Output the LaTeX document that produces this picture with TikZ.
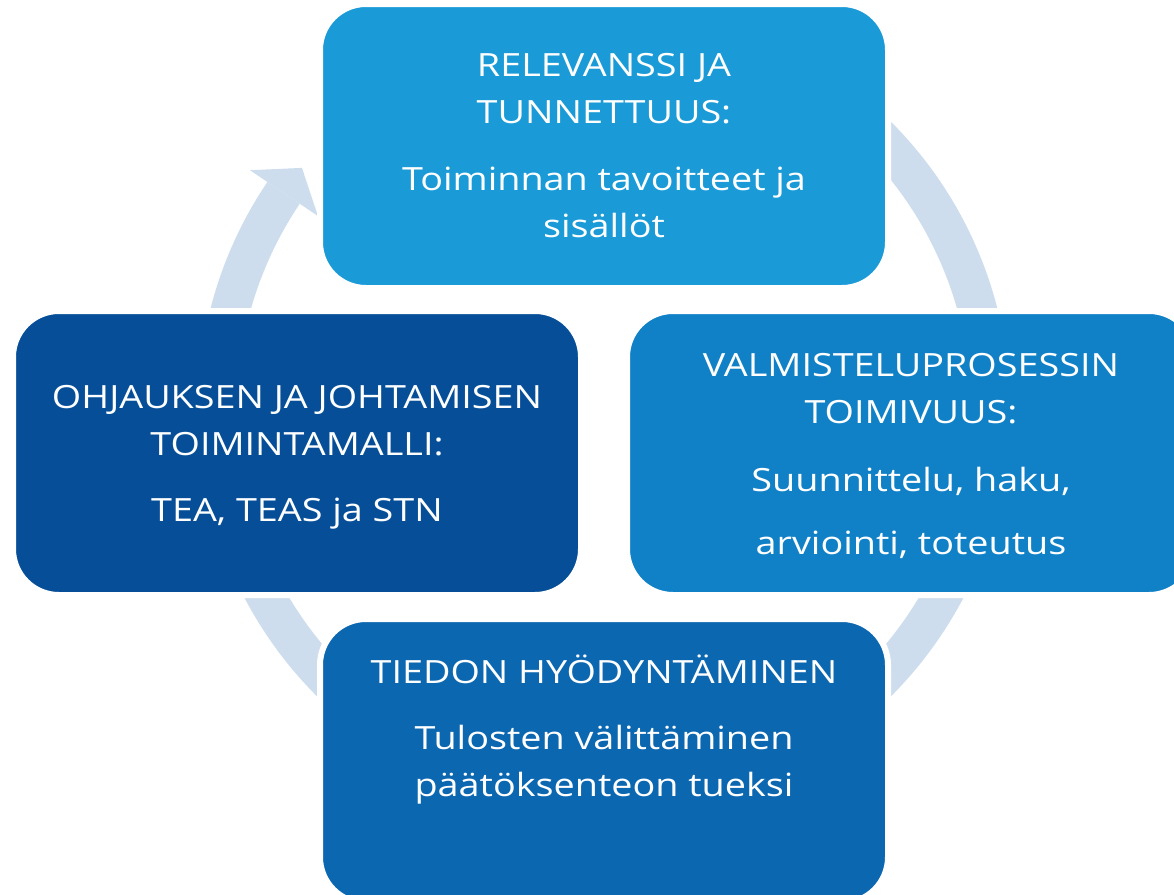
\documentclass[tikz,border=0pt]{standalone}
\usepackage{fontspec}
\setmainfont{Open Sans}[FakeStretch=1.18]
\usetikzlibrary{calc}
\definecolor{ringc}{HTML}{CDDDEE}
\definecolor{ctop}{HTML}{1A9BD7}
\definecolor{cleft}{HTML}{064F98}
\definecolor{cright}{HTML}{1181C7}
\definecolor{cbot}{HTML}{0C67B1}
\begin{document}
\begin{tikzpicture}[x=1pt,y=-1pt,
  box/.style={rounded corners=46pt, draw=white, line width=6pt, minimum width=568pt, minimum height=284pt, inner sep=0pt},
  txt/.style={text=white, align=center, inner sep=0pt, font=\fontsize{32}{47}\selectfont}]
\useasboundingbox (0,0) rectangle (1174,894);
\clip (0,0) rectangle (1174,894);
\fill[white] (0,0) rectangle (1174,894);
\coordinate (c) at (604,409);
% ring with arrow
\fill[ringc] ($(c)+(-146:406)$) arc[start angle=-146, end angle=-420, radius=406]
  -- ($(c)+(-420:367)$) arc[start angle=-420, end angle=-146, radius=367] -- cycle;
\fill[ringc] ($(c)+(-146:427)$) -- ($(c)+(-141.4:386.5)$) -- ($(c)+(-146:345)$) -- cycle;
% boxes
\node[box, fill=ctop] (top) at (604,146) {};
\node[box, fill=cleft] (left) at (297,453) {};
\node[box, fill=cright] (right) at (911,453) {};
\node[box, fill=cbot] (bottom) at (604,761) {};
% texts
\node[txt] (ttop) at (604,146) {RELEVANSSI JA\\TUNNETTUUS:\\[20pt]Toiminnan tavoitteet ja\\sisällöt};
\node[txt] (tleft) at (297,457) {OHJAUKSEN JA JOHTAMISEN\\TOIMINTAMALLI:\\[19pt]TEA, TEAS ja STN};
\node[txt] (tright) at (911,456) {VALMISTELUPROSESSIN\\TOIMIVUUS:\\[21pt]Suunnittelu, haku,\\[16pt]arviointi, toteutus};
\node[txt] (tbottom) at (604,730) {TIEDON HYÖDYNTÄMINEN\\[19pt]Tulosten välittäminen\\päätöksenteon tueksi};
\end{tikzpicture}
\end{document}
